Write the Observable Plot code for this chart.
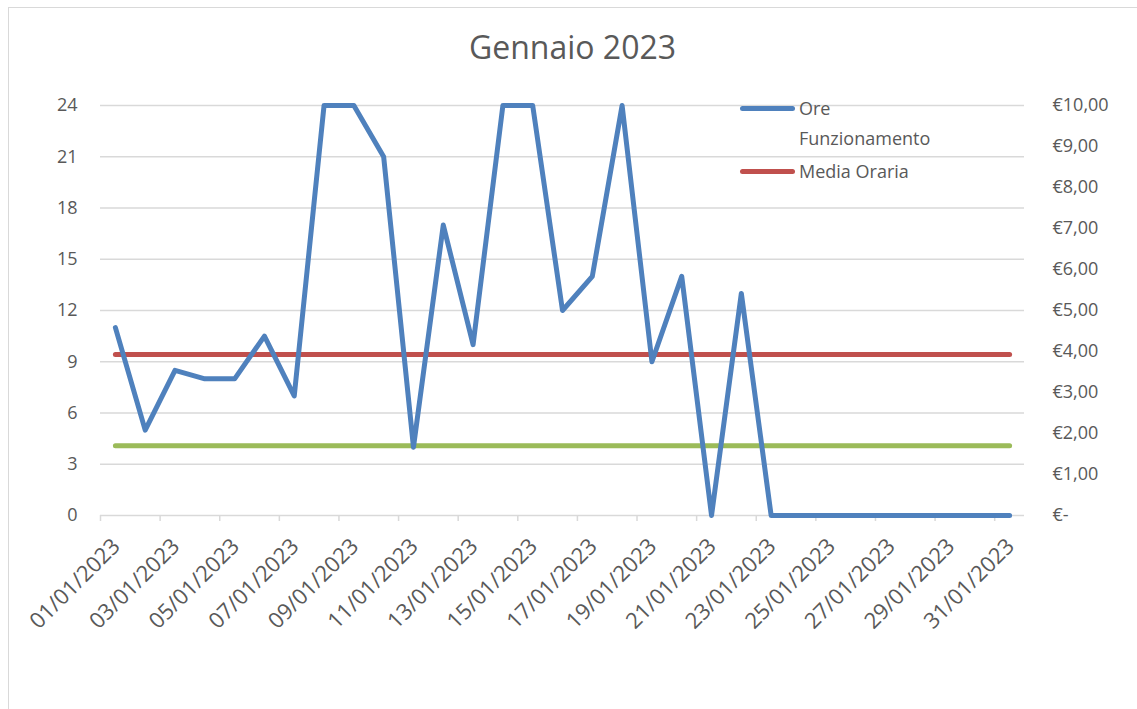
<!DOCTYPE html>
<html>
<head>
<meta charset="utf-8">
<script src="https://cdn.jsdelivr.net/npm/d3@7"></script>
<script src="https://cdn.jsdelivr.net/npm/@observablehq/plot@0.6"></script>
<style>
  body { margin: 0; background: #fff; font-family: "Open Sans", sans-serif; }
  #wrap { position: relative; width: 1137px; height: 709px; overflow: hidden; background: #fff; }
  #border { position: absolute; left: 8px; top: 7px; width: 1300px; height: 900px;
            border-left: 1.5px solid #d9d9d9; border-top: 1.5px solid #d9d9d9; }
  #title { position: absolute; left: 0; width: 1145px; top: 25px; text-align: center;
           font-size: 32px; color: #595959; }
  #chart { position: absolute; left: 0; top: 0; }
  .leg { position: absolute; font-size: 18px; color: #595959; line-height: 30px; }
  .sw { position: absolute; height: 5px; border-radius: 3px; }
</style>
</head>
<body>
<div id="wrap">
  <div id="border"></div>
  <div id="chart"></div>
  <div id="title">Gennaio 2023</div>
  <div id="legend"></div>
</div>
<script>
// ---- data ----
const dates = ["01/01/2023","02/01/2023","03/01/2023","04/01/2023","05/01/2023","06/01/2023",
  "07/01/2023","08/01/2023","09/01/2023","10/01/2023","11/01/2023","12/01/2023","13/01/2023",
  "14/01/2023","15/01/2023","16/01/2023","17/01/2023","18/01/2023","19/01/2023","20/01/2023",
  "21/01/2023","22/01/2023","23/01/2023","24/01/2023","25/01/2023","26/01/2023","27/01/2023",
  "28/01/2023","29/01/2023","30/01/2023","31/01/2023"];
const oreFunzionamento = [11,5,8.5,8,8,10.5,7,24,24,21,4,17,10,24,24,12,14,24,9,14,0,13,0,0,0,0,0,0,0,0,0];
const mediaOraria = 9.42;        // hours, left axis
const costoOrario = 1.70;        // euro, right axis
const leftTicks = [0,3,6,9,12,15,18,21,24];
const rightTickValues = [0,1,2,3,4,5,6,7,8,9,10];
const rightTickLabels = ["€-","€1,00","€2,00","€3,00","€4,00","€5,00","€6,00","€7,00","€8,00","€9,00","€10,00"];
const leftMax = 24, rightMax = 10;
const seriesNames = ["Ore Funzionamento","Media Oraria"];
const colors = {ore: "#4f81bd", media: "#c0504d", costo: "#9bbb59"};

// ---- derived ----
const k = leftMax / rightMax;
const days = dates.map((d, i) => i + 1);
const rows = dates.map((d, i) => ({day: i + 1, ore: oreFunzionamento[i], media: mediaOraria, costo: costoOrario * k}));
const labelDays = days.filter(d => d % 2 === 1);
const boundaries = days.filter(d => d % 2 === 1).map(d => d - 0.5);

const chart = Plot.plot({
  width: 1137,
  height: 709,
  marginTop: 105,
  marginBottom: 194,
  marginLeft: 100,
  marginRight: 113,
  x: {type: "linear", domain: [0.5, days.length + 0.5]},
  y: {domain: [0, leftMax]},
  style: {color: "#595959", fontFamily: "Open Sans, sans-serif", fontSize: "18px", background: "transparent", overflow: "visible"},
  marks: [
    Plot.ruleY(leftTicks, {stroke: "#d9d9d9", strokeWidth: 1.5}),
    Plot.axisX({ticks: boundaries, tickSize: 6, tickFormat: () => "", stroke: "#d9d9d9", strokeWidth: 1.5, label: null, strokeOpacity: 1}),
    Plot.axisX({ticks: labelDays, tickSize: 0, tickPadding: 27, dx: 1, tickRotate: -45, tickFormat: d => dates[d - 1], label: null, fontSize: 22}),
    Plot.axisY({ticks: leftTicks, tickSize: 0, tickPadding: 23, label: null, fontSize: 18}),
    Plot.axisY({anchor: "right", ticks: rightTickValues.map(v => v * k), tickSize: 0, tickPadding: 28,
                tickFormat: d => rightTickLabels[Math.round(d / k)], label: null, fontSize: 18, textAnchor: "start"}),
    Plot.line(rows, {x: "day", y: "costo", stroke: colors.costo, strokeWidth: 5, strokeLinecap: "round"}),
    Plot.line(rows, {x: "day", y: "media", stroke: colors.media, strokeWidth: 5, strokeLinecap: "round"}),
    Plot.line(rows, {x: "day", y: "ore", stroke: colors.ore, strokeWidth: 5, strokeLinecap: "round", strokeLinejoin: "round"})
  ]
});
document.getElementById("chart").appendChild(chart);

// ---- legend ----
const legend = document.getElementById("legend");
const legItems = [
  {name: seriesNames[0], color: colors.ore, top: 93, lines: ["Ore", "Funzionamento"]},
  {name: seriesNames[1], color: colors.media, top: 156, lines: ["Media Oraria"]}
];
legItems.forEach(it => {
  const sw = document.createElement("div");
  sw.className = "sw";
  sw.style.left = "740px"; sw.style.width = "55px";
  sw.style.top = (it.top + 13) + "px";
  sw.style.background = it.color;
  legend.appendChild(sw);
  const t = document.createElement("div");
  t.className = "leg";
  t.style.left = "799px"; t.style.top = it.top + "px";
  t.innerHTML = it.lines.join("<br>");
  legend.appendChild(t);
});
</script>
</body>
</html>
